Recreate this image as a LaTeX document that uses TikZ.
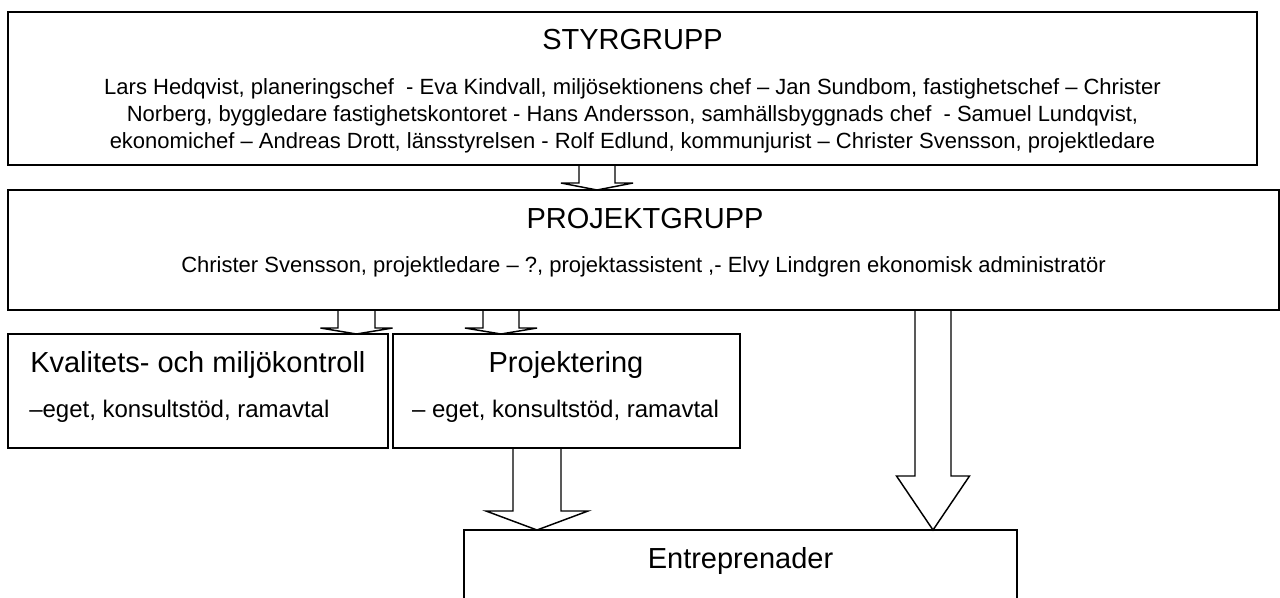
\documentclass[tikz,border=0pt]{standalone}
\usepackage{fontspec}
\setmainfont{Liberation Sans}
\usetikzlibrary{calc,fit}
\definecolor{border}{HTML}{000000}
\definecolor{ink}{HTML}{000000}
\tikzset{
  box/.style={draw=border, line width=1.1pt, inner sep=0pt, outer sep=0pt},
  arrowline/.style={draw=border, line width=1.1pt, line join=miter},
  titletext/.style={font=\fontsize{21.75}{26}\selectfont, color=ink, inner sep=0pt},
  names/.style={font=\fontsize{16.5}{19.9}\selectfont, color=ink, align=center, inner sep=0pt},
  subtext/.style={font=\fontsize{18}{21}\selectfont, color=ink, inner sep=0pt}
}
% #1 start on upper box, #2 tip on lower box, #3 half shaft, #4 half head, #5 head length
\newcommand{\BlockArrow}[5]{%
  \draw[arrowline] ($(#1)+(-#3,0)$) -- ($(#2)+(-#3,-#5)$) -- ($(#2)+(-#4,-#5)$) -- (#2)
    -- ($(#2)+(#4,-#5)$) -- ($(#2)+(#3,-#5)$) -- ($(#1)+(#3,0)$);
}

\begin{document}
\begin{tikzpicture}[x=0.75pt,y=-0.75pt]
  \clip (0,0) rectangle (1280,597);
  \fill[white] (0,0) rectangle (1280,597);

  \node[box, fit={(8,12) (1257,165)}] (styr) {};
  \node[box, fit={(8,190) (1279,310)}] (proj) {};
  \node[box, fit={(8,334) (388,448)}] (kval) {};
  \node[box, fit={(393,334) (740,448)}] (projek) {};
  \node[box, fit={(464,530) (1017,640)}] (entr) {};

  \node[titletext, anchor=base] (styrT) at (632.5,49) {STYRGRUPP};
  % base of a multi-line node sits on its last line
  \node[names, anchor=base] (styrN) at (632.5,148) {Lars Hedqvist, planeringschef \ - Eva Kindvall, miljösektionens chef – Jan Sundbom, fastighetschef – Christer\\
    Norberg, byggledare fastighetskontoret - Hans Andersson, samhällsbyggnads chef \ - Samuel Lundqvist,\\
    ekonomichef – Andreas Drott, länsstyrelsen - Rolf Edlund, kommunjurist – Christer Svensson, projektledare};

  \node[titletext, anchor=base] (projT) at (645,228) {PROJEKTGRUPP};
  \node[names, anchor=base] (projN) at (643.5,272) {Christer Svensson, projektledare – ?, projektassistent ,- Elvy Lindgren ekonomisk administratör};

  \node[titletext, anchor=base west] (kvalT) at (30,372) {Kvalitets- och miljökontroll};
  \node[subtext, anchor=base west] (kvalS) at (29,417) {–eget, konsultstöd, ramavtal};

  \node[titletext, anchor=base] (projekT) at (566,372) {Projektering};
  \node[subtext, anchor=base] (projekS) at (565.5,417) {– eget, konsultstöd, ramavtal};

  \node[titletext, anchor=base] (entrT) at (740.5,568) {Entreprenader};

  \coordinate (a1) at (597,0);
  \coordinate (a2) at (356.5,0);
  \coordinate (a3) at (501,0);
  \coordinate (a4) at (933,0);
  \coordinate (a5) at (537,0);

  \BlockArrow{styr.south -| a1}{proj.north -| a1}{18}{36}{7}
  \BlockArrow{proj.south -| a2}{kval.north -| a2}{18.5}{36}{6}
  \BlockArrow{proj.south -| a3}{projek.north -| a3}{18}{36}{6}
  \BlockArrow{proj.south -| a4}{entr.north -| a4}{18}{36.5}{54}
  \BlockArrow{projek.south -| a5}{entr.north -| a5}{24}{51}{19}
\end{tikzpicture}
\end{document}
